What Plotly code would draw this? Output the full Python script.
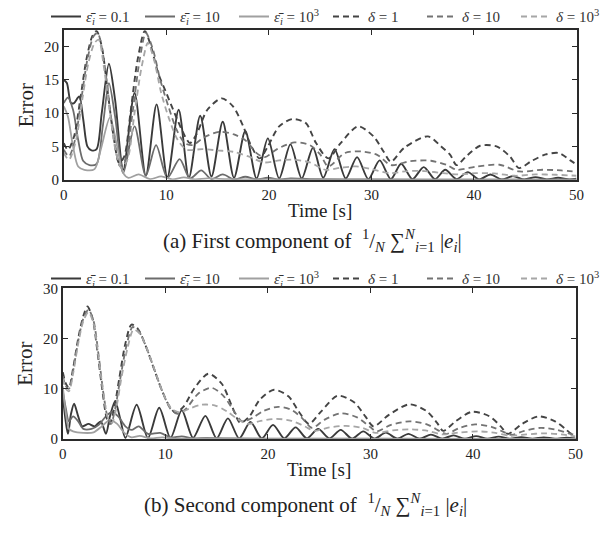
import plotly.graph_objects as go

# ---------------- data: (time [s], error) ----------------
# (a) first component
a_eps_01 = [(0, 15.0), (0.3, 14.5), (0.7, 11.5), (1.0, 11.5), (1.5, 12.5), (1.9, 9), (2.3, 5), (2.7, 4.4),
            (3.2, 4.6), (3.7, 10), (4.4, 17.4), (5.0, 12), (5.8, 1.5), (6.9, 13.0), (8.0, 0.6), (9.05, 11.3),
            (10.1, 0.4), (11.2, 10.5), (12.2, 0.3), (13.3, 9.6), (14.4, 0.5), (15.5, 8.7), (16.6, 0.3),
            (17.7, 7.3), (18.8, 0.2), (19.9, 6.2), (21.0, 0.2), (22.1, 5.3), (23.2, 0.2), (24.3, 4.8),
            (25.3, 0.3), (26.4, 4.6), (27.5, 0.2), (28.6, 3.4), (29.7, 0.1), (30.8, 2.9), (31.9, 0.1),
            (32.9, 2.4), (34.0, 0.1), (35.1, 1.9), (36.2, 0.1), (37.2, 1.5), (38.3, 0.1), (39.4, 1.15),
            (40.5, 0.05), (41.6, 0.8), (42.7, 0.05), (43.8, 0.55), (44.9, 0.05), (46.0, 0.4), (47.1, 0.05),
            (48.2, 0.3), (49.3, 0.05), (50, 0.15)]
a_eps_10 = [(0, 11.5), (0.4, 12.3), (0.9, 10.5), (1.4, 6), (1.9, 2.8), (2.5, 2.2), (3.2, 2.4), (3.8, 8),
            (4.4, 14.5), (5.0, 9.5), (5.8, 1.0), (6.9, 8.0), (8.0, 0.6), (9.0, 5.2), (10.1, 0.3), (11.3, 3.1),
            (12.3, 0.2), (13.4, 1.4), (14.4, 0.1), (15.5, 0.8), (16.6, 0.05), (17.7, 0.45), (18.8, 0.05),
            (19.9, 0.3), (21, 0.03), (22.1, 0.2), (24, 0.1), (30, 0.05), (40, 0.02), (50, 0.01)]
a_eps_1e3 = [(0, 11.0), (0.4, 9.5), (0.9, 5), (1.4, 2.0), (2.0, 1.5), (3.0, 1.6), (3.6, 4.5), (4.5, 9.3),
             (5.2, 5), (5.8, 1.0), (6.3, 0.3), (7.3, 0.8), (8.4, 0.1), (9.5, 0.5), (10.6, 0.05), (11.7, 0.35),
             (12.8, 0.05), (14, 0.2), (16, 0.1), (20, 0.05), (30, 0.02), (50, 0.0)]
a_del_1 = [(0, 5.5), (0.4, 4.5), (1.0, 6.5), (1.6, 12), (2.2, 18), (2.8, 21.6), (3.2, 22.3), (3.7, 20),
           (4.3, 13), (4.9, 6), (5.4, 2.5), (5.9, 3.5), (6.5, 10), (7.2, 18), (7.9, 22.3), (8.5, 20),
           (9.2, 16), (10.0, 13), (10.8, 10), (11.6, 7.2), (12.3, 5.5), (13.0, 7), (14.0, 10.5),
           (15.4, 12.2), (16.5, 11), (17.5, 8), (18.3, 5), (19.1, 3.2), (19.9, 5), (21.0, 8), (22.3, 9.1),
           (23.6, 8.5), (24.6, 5.5), (25.8, 3.2), (27.0, 5.5), (28.7, 8.0), (30.2, 6.5), (31.2, 4.2),
           (31.9, 2.7), (33.2, 4.8), (35.5, 6.5), (36.8, 5.0), (37.7, 3.7), (38.3, 2.2), (39.3, 3.6),
           (40.6, 5.1), (42.2, 5.0), (43.5, 3.5), (44.4, 1.75), (45.6, 2.8), (47.0, 3.8), (48.3, 4.0),
           (49.4, 2.9), (50, 2.3)]
a_del_10 = [(0, 4.5), (0.5, 3.5), (1.1, 6), (1.7, 12), (2.3, 18), (2.9, 21.5), (3.3, 22), (3.8, 19),
            (4.4, 12), (5.0, 5), (5.5, 2), (6.0, 3), (6.7, 10), (7.4, 18), (8.0, 22), (8.7, 19.5),
            (9.4, 15), (10.2, 11), (11.0, 7.5), (11.8, 5.5), (12.6, 5.2), (13.6, 6.3), (15.2, 7.2),
            (16.6, 6.8), (17.8, 5.8), (18.8, 4.0), (19.6, 3.4), (20.8, 4.6), (22.5, 5.6), (24.0, 5.2),
            (25.0, 3.8), (25.8, 2.0), (27.4, 4.0), (29.0, 4.25), (30.6, 3.7), (31.9, 2.2), (33.8, 2.8),
            (35.8, 2.85), (37.4, 2.2), (38.3, 1.5), (40.3, 2.0), (42.5, 2.25), (44.4, 1.25), (46.7, 1.5),
            (48.5, 1.4), (50, 1.2)]
a_del_1e3 = [(0, 4.0), (0.5, 3.0), (1.2, 6), (1.8, 12), (2.4, 17.5), (3.0, 20.5), (3.4, 21), (3.9, 17),
             (4.5, 10), (5.1, 4), (5.6, 1.8), (6.2, 3), (6.9, 10), (7.6, 17), (8.2, 20.5), (8.8, 18),
             (9.5, 13), (10.3, 9), (11.1, 6), (12.0, 4.5), (13.5, 4.6), (15, 4.4), (16.5, 4.2), (18, 3.5),
             (19.5, 2.6), (21, 2.9), (22.5, 3.0), (24, 2.6), (25.5, 1.5), (27, 1.8), (28.5, 2.0), (30, 1.6),
             (31.8, 1.0), (33.5, 1.3), (35.2, 1.3), (37, 1.0), (38.5, 0.8), (40.2, 1.0), (42, 0.95),
             (44, 0.6), (46, 0.8), (48, 0.75), (50, 0.6)]

# (b) second component
b_eps_01 = [(0, 8.5), (0.25, 4), (0.5, 1.0), (0.8, 5), (1.1, 7.0), (1.5, 4.5), (1.9, 2.5), (2.5, 3.0),
            (3.1, 2.5), (3.7, 3.5), (4.2, 1.0), (4.6, 4.5), (5.1, 7.5), (5.6, 4), (6.1, 0.2), (7.2, 6.8),
            (8.3, 0.2), (9.4, 6.2), (10.5, 0.2), (11.6, 5.7), (12.7, 0.2), (13.9, 4.6), (15.0, 0.1),
            (16.1, 4.1), (17.2, 0.1), (18.3, 3.4), (19.4, 0.1), (20.5, 2.8), (21.6, 0.1), (22.7, 2.3),
            (23.8, 0.1), (24.9, 2.0), (26.0, 0.1), (27.1, 1.8), (28.2, 0.05), (29.3, 1.5), (30.4, 0.05),
            (31.5, 1.25), (32.6, 0.05), (33.7, 1.0), (34.8, 0.05), (35.9, 0.85), (37.0, 0.05), (38.1, 0.7),
            (39.2, 0.05), (40.3, 0.55), (41.4, 0.05), (42.5, 0.45), (43.6, 0.05), (44.7, 0.35),
            (45.8, 0.05), (46.9, 0.3), (48.0, 0.05), (49.1, 0.25), (50, 0.1)]
b_eps_10 = [(0, 9.5), (0.3, 6), (0.6, 3.5), (1.0, 4.5), (1.5, 3.5), (2.0, 2.0), (2.8, 2.0), (3.5, 2.8),
            (4.2, 4.5), (4.8, 5.4), (5.4, 4.5), (6.1, 2.5), (6.7, 1.8), (7.4, 2.5), (8.3, 1.0), (9.5, 1.2),
            (10.5, 0.3), (11.6, 0.5), (12.7, 0.1), (14, 0.2), (16, 0.1), (20, 0.05), (30, 0.03), (50, 0.01)]
b_eps_1e3 = [(0, 10.5), (0.3, 5), (0.6, 2.0), (1.0, 1.5), (2.0, 1.2), (3.0, 1.3), (3.8, 2.5), (4.6, 3.8),
             (5.3, 3.0), (6.0, 1.2), (6.7, 0.3), (7.5, 0.6), (8.5, 0.1), (9.7, 0.3), (11, 0.05), (14, 0.1),
             (20, 0.02), (50, 0.0)]
b_del_1 = [(0, 13.3), (0.3, 11), (0.6, 10.2), (1.0, 14), (1.5, 20), (2.0, 24.5), (2.4, 26.4), (2.9, 24),
           (3.4, 17), (3.9, 9), (4.3, 4), (4.6, 3), (5.0, 6), (5.5, 12), (6.1, 19), (6.7, 22.8), (7.3, 22),
           (8.0, 19), (8.8, 14.5), (9.6, 10), (10.4, 6.5), (11.0, 5.2), (11.8, 6.5), (12.8, 10),
           (14.2, 13.0), (15.5, 11), (16.5, 6.5), (17.3, 3.2), (18.2, 4.5), (19.2, 7.8), (20.6, 9.8),
           (22.0, 8.5), (23.0, 5.5), (24.0, 3.0), (25.2, 5.5), (26.8, 8.6), (28.4, 7.3), (29.5, 4.5),
           (30.3, 2.5), (31.8, 4.8), (33.8, 6.9), (35.5, 5.5), (36.5, 3.2), (37.1, 1.6), (38.3, 3.5),
           (39.9, 5.4), (41.6, 4.5), (42.7, 2.5), (43.4, 1.0), (44.8, 3.0), (46.4, 4.5), (48.0, 3.5),
           (49.0, 2.0), (49.6, 1.0), (50, 0.8)]
b_del_10 = [(0, 12.5), (0.3, 10.5), (0.6, 10), (1.0, 13.5), (1.5, 19.5), (2.0, 24), (2.5, 25.8), (3.0, 23.5),
            (3.5, 16.5), (4.0, 8.5), (4.4, 4), (4.7, 3), (5.1, 6), (5.6, 12), (6.2, 18.5), (6.8, 22.3),
            (7.4, 21.5), (8.1, 18.5), (8.9, 14), (9.7, 9.5), (10.5, 6), (11.2, 5), (12, 6), (13.2, 9),
            (14.5, 10.2), (15.7, 8.5), (16.7, 5.5), (17.5, 3.5), (18.5, 4.2), (19.6, 5.6), (21.0, 6.4),
            (22.3, 5.8), (23.4, 4.0), (24.3, 2.2), (25.5, 3.8), (27.1, 5.1), (28.7, 4.3), (30.0, 2.3),
            (30.6, 1.5), (32.0, 2.8), (33.8, 3.5), (35.5, 2.9), (36.8, 1.5), (37.4, 1.0), (38.7, 2.2),
            (40.2, 2.9), (41.8, 2.4), (43.2, 1.2), (43.8, 0.8), (45.0, 1.6), (46.6, 2.2), (48.2, 1.8),
            (49.5, 1.0), (50, 0.8)]
b_del_1e3 = [(0, 12), (0.3, 10), (0.6, 9.5), (1.0, 13), (1.5, 19), (2.0, 23.5), (2.5, 25.3), (3.0, 23),
             (3.5, 16), (4.0, 8.5), (4.4, 4.2), (4.8, 3.2), (5.2, 6), (5.7, 12), (6.3, 18), (6.9, 21.8),
             (7.5, 21), (8.2, 18), (9.0, 13.5), (9.8, 9), (10.6, 6), (11.4, 5.3), (12.3, 6), (13.5, 6.8),
             (14.8, 6.7), (16.0, 5.5), (17.0, 4.0), (18.0, 3.0), (19.3, 3.6), (20.8, 4.0), (22.3, 3.6),
             (23.6, 2.5), (24.5, 1.6), (26.0, 2.3), (27.6, 2.6), (29.2, 2.2), (30.5, 1.2), (32.2, 1.7),
             (34.0, 1.9), (35.6, 1.6), (37, 0.9), (38.8, 1.3), (40.5, 1.5), (42.2, 1.2), (43.6, 0.6),
             (45.2, 0.9), (47.0, 1.1), (48.6, 0.9), (50, 0.5)]

series_names = ["<i>ε̄<sub>i</sub></i> = 0.1", "<i>ε̄<sub>i</sub></i> = 10", "<i>ε̄<sub>i</sub></i> = 10<sup>3</sup>",
                "<i>δ</i> = 1", "<i>δ</i> = 10", "<i>δ</i> = 10<sup>3</sup>"]
x_ticks = [0, 10, 20, 30, 40, 50]
y_ticks_a = [0, 5, 10, 15, 20]
y_ticks_b = [0, 10, 20, 30]

# ---------------- styles ----------------
colors = ["#3a3a3a", "#6c6c6c", "#a0a0a0", "#444444", "#737373", "#a6a6a6"]
dashes = ["solid", "solid", "solid", "6px,4px", "6px,4px", "6px,4px"]
widths = [1.9, 1.8, 1.8, 1.9, 1.8, 1.8]
FONT = "Liberation Serif"

fig = go.Figure()

def add_panel(data, xa, ya, legend):
    for k, pts in enumerate(data):
        fig.add_trace(go.Scatter(
            x=[p[0] for p in pts], y=[p[1] for p in pts], mode="lines",
            name=series_names[k], xaxis=xa, yaxis=ya, legend=legend,
            line=dict(color=colors[k], width=widths[k], dash=dashes[k], shape="spline", smoothing=0.8),
            showlegend=True))

add_panel([a_eps_01, a_eps_10, a_eps_1e3, a_del_1, a_del_10, a_del_1e3], "x", "y", "legend")
add_panel([b_eps_01, b_eps_10, b_eps_1e3, b_del_1, b_del_10, b_del_1e3], "x2", "y2", "legend2")

axis_common = dict(showline=True, linecolor="#2a2a2a", linewidth=1.5, mirror="allticks",
                   ticks="inside", ticklen=5, tickcolor="#2a2a2a", showgrid=False, zeroline=False,
                   tickfont=dict(family=FONT, size=15, color="#222"))
W, H = 610, 542
xtitle_font = dict(family=FONT, size=19, color="#222")
ytitle_font = dict(family=FONT, size=21, color="#222")
legend_common = dict(orientation="h", xanchor="left", yanchor="top", bgcolor="rgba(0,0,0,0)",
                     font=dict(family=FONT, size=15, color="#333"), itemwidth=30, tracegroupgap=0,
                     entrywidth=49, entrywidthmode="pixels")

fig.update_layout(
    width=W, height=H, margin=dict(l=0, r=0, t=0, b=0),
    paper_bgcolor="white", plot_bgcolor="white",
    font=dict(family=FONT, color="#222"),
    xaxis=dict(domain=[61 / W, 584 / W], range=[0, 50], tickvals=x_ticks, anchor="y",
               title=dict(text="Time [s]", font=xtitle_font, standoff=2), **axis_common),
    yaxis=dict(domain=[1 - 177 / H, 1 - 23 / H], range=[0, 22.4], tickvals=y_ticks_a, anchor="x",
               title=dict(text="Error", font=ytitle_font, standoff=5), **axis_common),
    xaxis2=dict(domain=[60 / W, 583 / W], range=[0, 50], tickvals=x_ticks, anchor="y2",
                title=dict(text="Time [s]", font=xtitle_font, standoff=2), **axis_common),
    yaxis2=dict(domain=[1 - 444 / H, 1 - 289 / H], range=[0, 30], tickvals=y_ticks_b, anchor="x2",
                title=dict(text="Error", font=ytitle_font, standoff=5), **axis_common),
    legend=dict(x=50 / W, y=1 + 8 / H, **legend_common),
    legend2=dict(x=50 / W, y=1 - 262 / H, **legend_common),
    annotations=[
        dict(text="(a) First component of  <sup>1</sup>/<sub><i>N</i></sub> ∑<sup><i>N</i></sup><sub><i>i</i>=1</sub> |<i>e<sub>i</sub></i>|",
             x=315 / W, y=1 - 240 / H, xref="paper", yref="paper", showarrow=False,
             font=dict(family=FONT, size=21, color="#222"), xanchor="center", yanchor="middle"),
        dict(text="(b) Second component of  <sup>1</sup>/<sub><i>N</i></sub> ∑<sup><i>N</i></sup><sub><i>i</i>=1</sub> |<i>e<sub>i</sub></i>|",
             x=308 / W, y=1 - 512 / H, xref="paper", yref="paper", showarrow=False,
             font=dict(family=FONT, size=21, color="#222"), xanchor="center", yanchor="middle"),
    ],
)

fig.write_html("out.html")
